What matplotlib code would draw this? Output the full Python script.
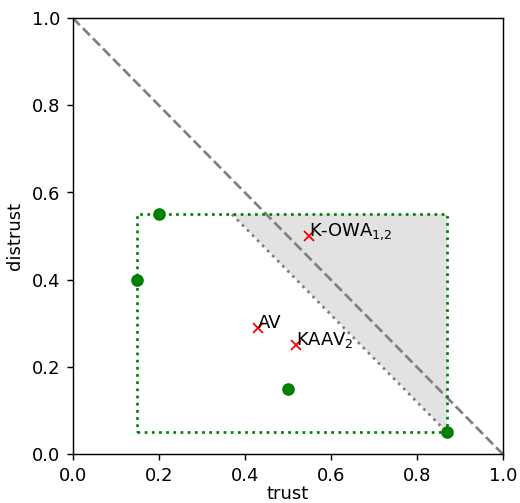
import matplotlib.pyplot as plt

# green points
gx = [0.2, 0.15, 0.5, 0.87]
gy = [0.55, 0.4, 0.15, 0.05]

# labelled red points
names = ['AV', 'KAAV$_2$', 'K-OWA$_{1{,}2}$']
rx = [0.43, 0.52, 0.55]
ry = [0.29, 0.25, 0.50]

# box bounds
xlo, xhi = 0.15, 0.87
ylo, yhi = 0.05, 0.55

fig = plt.figure(figsize=(4, 3.87), dpi=130)
ax = fig.add_axes([0.14, 0.097, 0.827, 0.867])

ax.plot([0, 1], [1, 0], '--', color='gray')

# shaded triangle above x + y = xhi + ylo
s = xhi + ylo
tri_x = [s - yhi, xhi, xhi]
tri_y = [yhi, yhi, s - xhi]
ax.fill(tri_x, tri_y, color='lightgray', alpha=0.65, lw=0)
ax.plot([s - yhi, xhi], [yhi, s - xhi], ':', color='gray')

ax.plot([xlo, xhi, xhi, xlo, xlo], [ylo, ylo, yhi, yhi, ylo], ':', color='green')
ax.plot(gx, gy, 'o', color='green')

ax.plot(rx, ry, 'x', color='red')
for n, x, y in zip(names, rx, ry):
    ax.text(x, y, n)

ax.set_xlim(0, 1)
ax.set_ylim(0, 1)
ax.set_xlabel('trust', labelpad=0)
ax.set_ylabel('distrust')

plt.savefig('out.png')
